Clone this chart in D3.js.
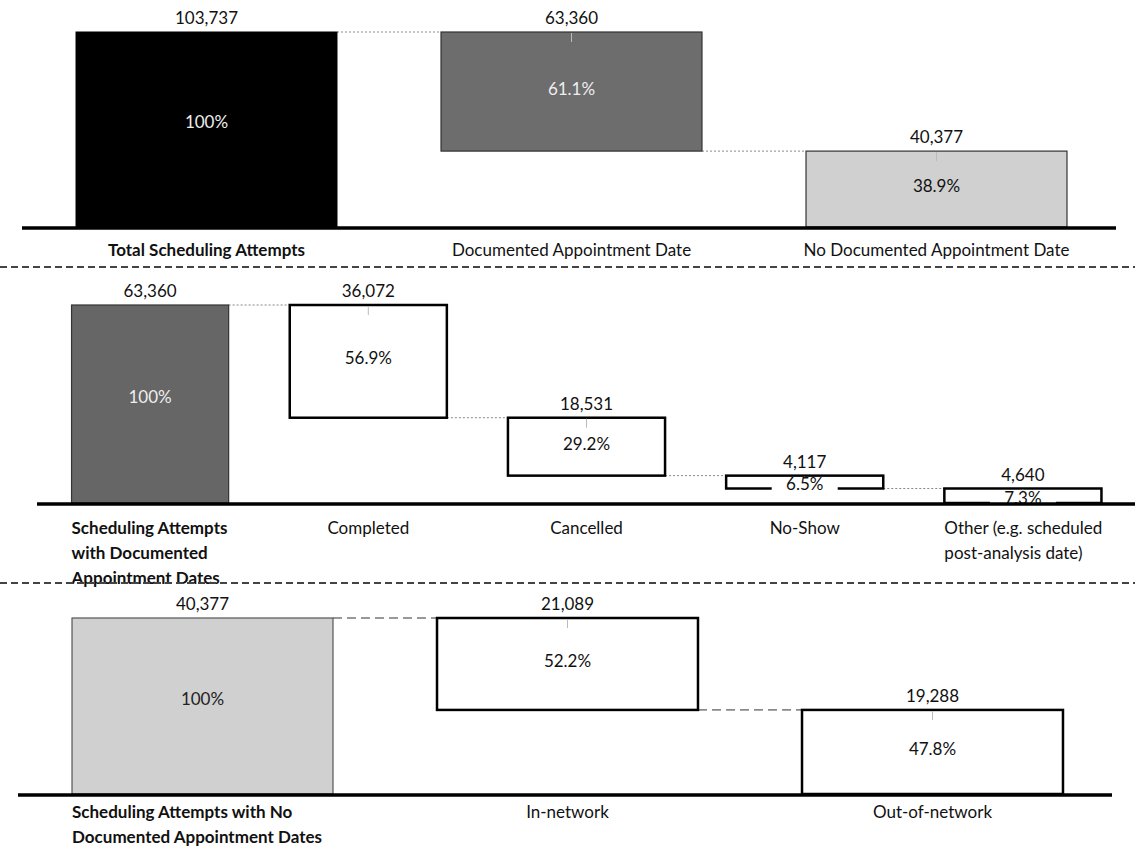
<!DOCTYPE html>
<html>
<head>
<meta charset="utf-8">
<script src="https://cdn.jsdelivr.net/npm/d3@7/dist/d3.min.js"></script>
<style>
  html, body { margin: 0; padding: 0; background: #fff; }
  svg { display: block; }
  text { font-family: Lato, "Open Sans", sans-serif; font-size: 17px; fill: #111; }
</style>
</head>
<body>
<svg id="chart" width="1135" height="852"></svg>
<script>
"use strict";

// Panel 1 - all scheduling attempts
const totalCategories = ["Total Scheduling Attempts", "Documented Appointment Date", "No Documented Appointment Date"];
const totalValues = [103737, 63360, 40377];
const totalPcts = ["100%", "61.1%", "38.9%"];

// Panel 2 - attempts with documented dates
const documentedCategories = ["Scheduling Attempts|with Documented|Appointment Dates", "Completed", "Cancelled", "No-Show", "Other (e.g. scheduled|post-analysis date)"];
const documentedValues = [63360, 36072, 18531, 4117, 4640];
const documentedPcts = ["100%", "56.9%", "29.2%", "6.5%", "7.3%"];

// Panel 3 - attempts without documented dates
const undocumentedCategories = ["Scheduling Attempts with No|Documented Appointment Dates", "In-network", "Out-of-network"];
const undocumentedValues = [40377, 21089, 19288];
const undocumentedPcts = ["100%", "52.2%", "47.8%"];

let svg = d3.select("#chart");
let fmt = d3.format(",");

function drawPanel(opts) {
    let g = svg.append("g");
    let cats = opts.categories, vals = opts.values, pcts = opts.pcts;

    let x = d3.scaleBand()
        .domain(cats)
        .range([opts.x0, opts.x1])
        .paddingInner(opts.pad)
        .paddingOuter(opts.pad / 2);

    let y = d3.scaleLinear()
        .domain([0, vals[0]])
        .range([opts.base, opts.top]);

    // waterfall: first bar full, the rest step down from the total
    let rows = [];
    let running = vals[0];
    vals.forEach(function (v, i) {
        if (i === 0) {
            rows.push({ cat: cats[i], v: v, pct: pcts[i], hi: v, lo: 0, i: i });
        } else {
            rows.push({ cat: cats[i], v: v, pct: pcts[i], hi: running, lo: running - v, i: i });
            running -= v;
        }
    });

    // connectors between bars
    rows.slice(0, -1).forEach(function (d, i) {
        let next = rows[i + 1];
        let yy = (i === 0) ? y(d.hi) : y(d.lo);
        g.append("line")
            .attr("x1", x(d.cat) + x.bandwidth())
            .attr("x2", x(next.cat))
            .attr("y1", yy)
            .attr("y2", yy)
            .style("stroke", opts.connColor)
            .style("stroke-width", 1)
            .style("stroke-dasharray", opts.connDash);
    });

    // bars
    g.selectAll("rect.bar")
        .data(rows)
        .enter()
        .append("rect")
        .attr("class", "bar")
        .attr("x", function (d) { return x(d.cat); })
        .attr("y", function (d) { return y(d.hi); })
        .attr("width", x.bandwidth())
        .attr("height", function (d) { return y(d.lo) - y(d.hi); })
        .style("fill", function (d) { return opts.fills[d.i]; })
        .style("stroke", function (d) { return opts.strokes[d.i]; })
        .style("stroke-width", function (d) { return opts.strokeWidths[d.i]; });

    // small leader ticks under value labels
    g.selectAll("line.tick")
        .data(rows.slice(1))
        .enter()
        .append("line")
        .attr("x1", function (d) { return x(d.cat) + x.bandwidth() / 2; })
        .attr("x2", function (d) { return x(d.cat) + x.bandwidth() / 2; })
        .attr("y1", function (d) { return y(d.hi) + 1; })
        .attr("y2", function (d) { return y(d.hi) + 10; })
        .style("stroke", "#bbb")
        .style("stroke-width", 1);

    // value labels
    g.selectAll("text.val")
        .data(rows)
        .enter()
        .append("text")
        .attr("class", "val")
        .attr("x", function (d) { return x(d.cat) + x.bandwidth() / 2; })
        .attr("y", function (d) { return y(d.hi) - 8; })
        .style("text-anchor", "middle")
        .text(function (d) { return fmt(d.v); });

    // percentage labels (white box behind for the thin bars)
    let pg = g.selectAll("g.pct")
        .data(rows)
        .enter()
        .append("g")
        .attr("class", "pct")
        .attr("transform", function (d) {
            let cy = (y(d.hi) + y(d.lo)) / 2;
            let h = y(d.lo) - y(d.hi);
            cy += (h > 150) ? -7 : (h > 30 ? -3 : 2);
            return "translate(" + (x(d.cat) + x.bandwidth() / 2) + "," + cy + ")";
        });
    pg.filter(function (d) { return y(d.lo) - y(d.hi) < 20; })
        .append("rect")
        .attr("x", -33)
        .attr("y", -6)
        .attr("width", 66)
        .attr("height", 14)
        .style("fill", "#fff");
    pg.append("text")
        .attr("dy", "0.35em")
        .style("text-anchor", "middle")
        .style("fill", function (d) { return opts.pctColors[d.i]; })
        .text(function (d) { return d.pct; });

    // baseline
    g.append("line")
        .attr("x1", opts.lineX0)
        .attr("x2", opts.lineX1)
        .attr("y1", opts.base + 1)
        .attr("y2", opts.base + 1)
        .style("stroke", "#000")
        .style("stroke-width", 3.5);

    // category labels
    let lab = g.selectAll("text.cat")
        .data(rows)
        .enter()
        .append("text")
        .attr("class", "cat")
        .style("font-weight", function (d) { return d.i === 0 ? "bold" : "normal"; })
        .style("text-anchor", function (d) { return d.cat.indexOf("|") >= 0 ? "start" : "middle"; })
        .attr("transform", function (d) {
            let tx = d.cat.indexOf("|") >= 0 ? x(d.cat) : x(d.cat) + x.bandwidth() / 2;
            return "translate(" + tx + "," + (opts.base + opts.labelGap) + ")";
        });
    lab.selectAll("tspan")
        .data(function (d) { return d.cat.split("|"); })
        .enter()
        .append("tspan")
        .attr("x", 0)
        .attr("dy", function (d, i) { return i === 0 ? 0 : opts.lineH; })
        .text(function (d) { return d; });
}

drawPanel({
    categories: totalCategories, values: totalValues, pcts: totalPcts,
    x0: 24, x1: 1119, pad: 0.285, base: 227, top: 32,
    lineX0: 22, lineX1: 1116, lineH: 25, labelGap: 29,
    fills: ["#000", "#6d6d6d", "#d0d0d0"],
    strokes: ["#000", "#333", "#333"],
    strokeWidths: [1, 1.2, 1.2],
    pctColors: ["#eee", "#eee", "#111"],
    connColor: "#888", connDash: "2,2"
});

drawPanel({
    categories: documentedCategories, values: documentedValues, pcts: documentedPcts,
    x0: 41, x1: 1132, pad: 0.28, base: 503, top: 305,
    lineX0: 37, lineX1: 1135, lineH: 25, labelGap: 31,
    fills: ["#666", "#fff", "#fff", "#fff", "#fff"],
    strokes: ["#333", "#000", "#000", "#000", "#000"],
    strokeWidths: [1.2, 2.5, 2.5, 2.5, 2.5],
    pctColors: ["#eee", "#111", "#111", "#111", "#111"],
    connColor: "#888", connDash: "2,2"
});

drawPanel({
    categories: undocumentedCategories, values: undocumentedValues, pcts: undocumentedPcts,
    x0: 20, x1: 1115, pad: 0.285, base: 794, top: 618,
    lineX0: 18, lineX1: 1112, lineH: 25, labelGap: 24,
    fills: ["#d0d0d0", "#fff", "#fff"],
    strokes: ["#555", "#000", "#000"],
    strokeWidths: [1.2, 2.5, 2.5],
    pctColors: ["#222", "#111", "#111"],
    connColor: "#333", connDash: "9,5"
});

// dashed separators between panels
svg.selectAll("line.sep")
    .data([267, 583])
    .enter()
    .append("line")
    .attr("class", "sep")
    .attr("x1", 0)
    .attr("x2", 1135)
    .attr("y1", function (d) { return d; })
    .attr("y2", function (d) { return d; })
    .style("stroke", "#444")
    .style("stroke-width", 2)
    .style("stroke-dasharray", "7,4");
</script>
</body>
</html>
